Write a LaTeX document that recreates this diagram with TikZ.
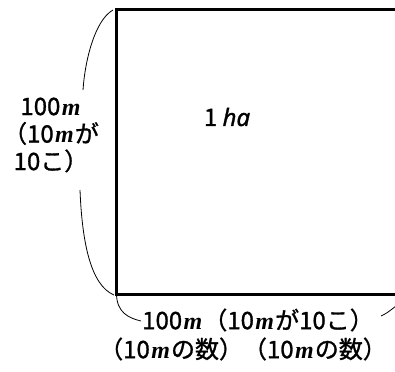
\documentclass[tikz,border=0pt]{standalone}
\usepackage{fontspec}
\setmainfont{Noto Sans CJK JP}[FakeBold=1.2]
\newfontfamily\haitfont{Noto Sans}[FakeBold=1.2]
\newfontfamily\mfont{Liberation Serif}
\newcommand\um{{\kern1.5pt\mfont\bfseries\itshape m\kern1pt}}
\begin{document}
\begin{tikzpicture}[x=1pt,y=-1pt,
  lbl/.style={inner sep=0pt,font=\fontsize{24}{27.5}\selectfont},
  brace/.style={line width=0.8pt}]
\useasboundingbox (0,0) rectangle (395,371);
% field (cut off at the right)
\draw[line width=3pt] (397,9.5) -- (116.5,9.5) coordinate (tl) -- (116.5,294.5) coordinate (bl) -- (397,294.5);
\node[lbl] (area) at (227,117) {1 {\haitfont\itshape ha}};
% side length
\node[lbl,align=center] (side) at (51,135) {100\um\\（10\um が\\10こ）};
\coordinate (su) at (83,90);
\coordinate (sd) at (80,190);
\draw[brace] (113,10) .. controls (95,20) and (85,60) .. (su);
\draw[brace] (sd) .. controls (82,240) and (90,285) .. (114,295);
% bottom length
\node[lbl] (bot1) at (258,320) {100\um（10\um が10こ）};
\node[lbl] (bot2) at (243,349) {（10\um の数）（10\um の数）};
\coordinate (bl2) at (141,321);
\coordinate (br) at (381,316);
\draw[brace] (bl) .. controls (117,312) and (128,318) .. (bl2);
\draw[brace] (br) .. controls (387,313) .. (396,306);
\end{tikzpicture}
\end{document}
